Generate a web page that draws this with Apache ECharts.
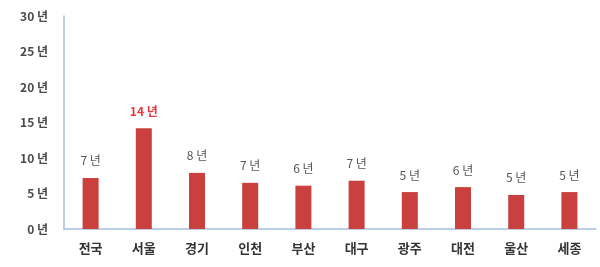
<!DOCTYPE html>
<html>
<head>
<meta charset="utf-8">
<script src="https://cdn.jsdelivr.net/npm/echarts@6/dist/echarts.min.js"></script>
<style>
  html, body { margin: 0; padding: 0; background: #fff; }
  #chart { width: 600px; height: 267px; }
</style>
</head>
<body>
<div id="chart"></div>
<script>
// 지역별 값
const regions = ["전국", "서울", "경기", "인천", "부산", "대구", "광주", "대전", "울산", "세종"];
const years = [7.2, 14.2, 7.9, 6.5, 6.1, 6.8, 5.2, 5.9, 4.8, 5.2];
const yearLabels = ["7 년", "14 년", "8 년", "7 년", "6 년", "7 년", "5 년", "6 년", "5 년", "5 년"];
const highlight = "서울";

const chart = echarts.init(document.getElementById("chart"));

const font = "'Noto Sans CJK KR', 'Noto Sans', sans-serif";

chart.setOption({
  animation: false,
  grid: { left: 64, right: 4, top: 16, bottom: 38 },
  xAxis: {
    type: "category",
    data: regions,
    axisLine: { lineStyle: { color: "#a8bfe0", width: 1.5 } },
    axisTick: { show: false },
    axisLabel: {
      margin: 13,
      fontFamily: font,
      fontSize: 13,
      fontWeight: "bold",
      color: "#333",
    },
  },
  yAxis: {
    type: "value",
    min: 0,
    max: 30,
    interval: 5,
    axisLine: { show: true, lineStyle: { color: "#a8bfe0", width: 1.5 } },
    axisTick: { show: false },
    splitLine: { show: false },
    axisLabel: {
      margin: 16,
      fontFamily: font,
      fontSize: 12,
      fontWeight: "bold",
      color: "#4a4a4a",
      formatter: (v) => v + " 년",
    },
  },
  series: [
    {
      type: "bar",
      barWidth: 16,
      data: years.map((v, i) => {
        const hot = regions[i] === highlight;
        return {
          value: v,
          label: {
            show: true,
            position: "top",
            distance: 11,
            formatter: yearLabels[i],
            fontFamily: font,
            fontSize: 12,
            fontWeight: hot ? "bold" : "normal",
            color: hot ? "#e8383d" : "#555",
          },
        };
      }),
      itemStyle: { color: "#c9403f" },
    },
  ],
});
</script>
</body>
</html>
